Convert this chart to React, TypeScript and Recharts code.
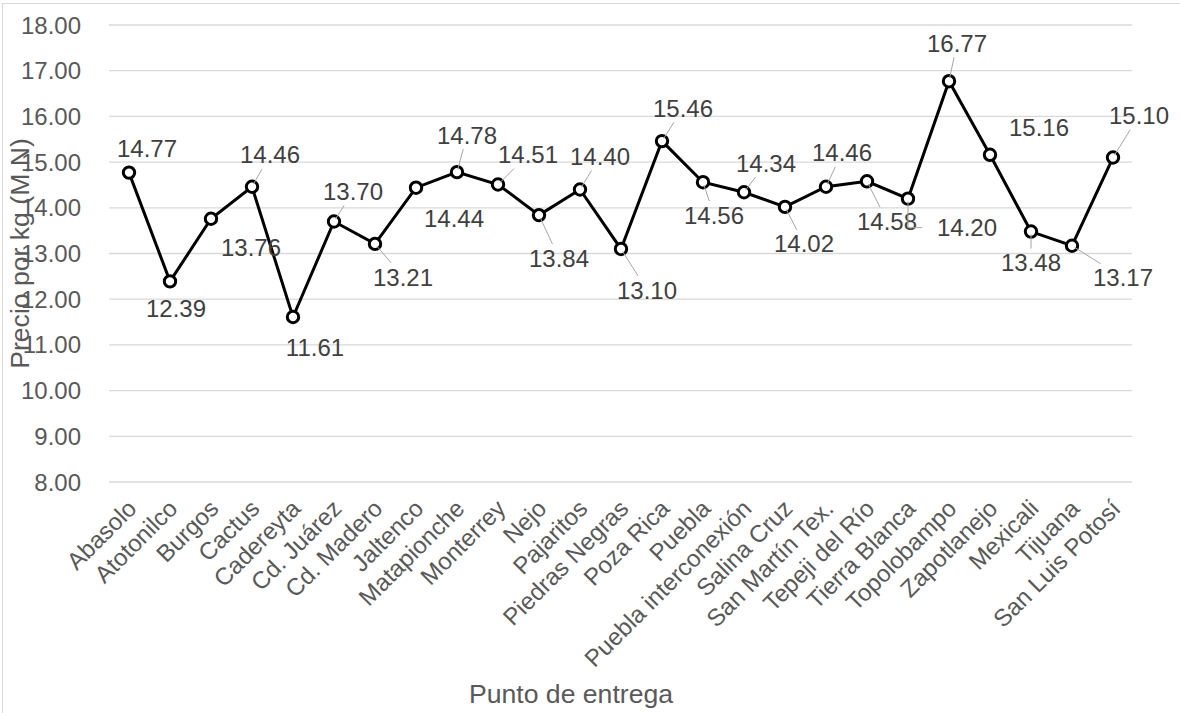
import React from 'react';
import { CartesianGrid, Label, Line, LineChart, XAxis, YAxis } from 'recharts';

const categories = [
  'Abasolo', 'Atotonilco', 'Burgos', 'Cactus', 'Cadereyta', 'Cd. Juárez', 'Cd. Madero',
  'Jaltenco', 'Matapionche', 'Monterrey', 'Nejo', 'Pajaritos', 'Piedras Negras', 'Poza Rica',
  'Puebla', 'Puebla interconexión', 'Salina Cruz', 'San Martín Tex.', 'Tepeji del Río',
  'Tierra Blanca', 'Topolobampo', 'Zapotlanejo', 'Mexicali', 'Tijuana', 'San Luis Potosí',
];

const prices = [
  14.77, 12.39, 13.76, 14.46, 11.61, 13.7, 13.21, 14.44, 14.78, 14.51, 13.84, 14.4, 13.1,
  15.46, 14.56, 14.34, 14.02, 14.46, 14.58, 14.2, 16.77, 15.16, 13.48, 13.17, 15.1,
];

const yTicks = [8, 9, 10, 11, 12, 13, 14, 15, 16, 17, 18];

// where Excel left each data label, relative to its point (px), and how the leader is drawn
const labelOffsets: [number, number][] = [
  [18, -24], [6, 27], [40, 29], [18, -32], [22, 30], [19, -30], [28, 33], [38, 31],
  [10, -37], [30, -30], [20, 43], [20, -33], [26, 41], [21, -33], [11, 33], [22, -29],
  [19, 37], [16, -34], [20, 40], [59, 29], [8, -38], [49, -27], [0, 31], [51, 32], [26, -42],
];
const leaderKinds = [
  'none', 'none', 'none', 'line', 'none', 'line', 'line', 'none', 'line', 'line', 'line',
  'line', 'line', 'line', 'line', 'line', 'line', 'line', 'line', 'elbow', 'line', 'none',
  'line', 'line', 'line',
];

const FONT = '"Liberation Sans", Arial, sans-serif';
const TICK_COLOR = '#595959';
const LABEL_COLOR = '#404040';
const BOX_W = 33;
const BOX_H = 14;

const data = categories.map((punto, i) => ({ punto, precio: prices[i] }));

function CategoryTick({ x, y, payload }: any) {
  return (
    <g transform={`translate(${x + 9},${y + 28})`}>
      <text textAnchor="end" transform="rotate(-45)" fontSize={24} fontFamily={FONT} fill={TICK_COLOR}>
        {payload.value}
      </text>
    </g>
  );
}

function PriceLabel(props: any) {
  const index: number = props.index;
  const px: number = props.x ?? props.viewBox?.x;
  const py: number = props.y ?? props.viewBox?.y;
  if (index == null || px == null || py == null) return null;
  const value = typeof props.value === 'number' ? props.value : prices[index];
  const [dx, dy] = labelOffsets[index];
  const lx = px + dx;
  const ly = py + dy;
  let leader = null;
  if (leaderKinds[index] === 'line') {
    const t = Math.min(BOX_W / Math.max(Math.abs(dx), 0.001), BOX_H / Math.max(Math.abs(dy), 0.001));
    const len = Math.hypot(dx, dy);
    leader = (
      <line
        x1={px + (3 * dx) / len}
        y1={py + (3 * dy) / len}
        x2={lx - t * dx}
        y2={ly - t * dy}
        stroke="#a6a6a6"
        strokeWidth={1}
      />
    );
  } else if (leaderKinds[index] === 'elbow') {
    leader = (
      <polyline
        points={`${px},${py + 3} ${px},${ly} ${lx - BOX_W - 12},${ly}`}
        fill="none"
        stroke="#a6a6a6"
        strokeWidth={1}
      />
    );
  }
  return (
    <g>
      {leader}
      <text x={lx} y={ly + 8.6} textAnchor="middle" fontSize={24} fontFamily={FONT} fill={LABEL_COLOR}>
        {value.toFixed(2)}
      </text>
    </g>
  );
}

export default function App() {
  return (
    <div
      style={{
        position: 'absolute',
        left: 0,
        top: 0,
        width: 1180,
        height: 713,
        background: '#fff',
        fontFamily: FONT,
      }}
    >
      <div
        style={{
          position: 'absolute',
          left: 2,
          top: 3,
          width: 1178,
          height: 710,
          borderLeft: '1px solid #d9d9d9',
          borderTop: '1px solid #d9d9d9',
          boxSizing: 'border-box',
        }}
      />
      <LineChart
        width={1180}
        height={713}
        data={data}
        margin={{ top: 25, right: 48, bottom: 0, left: 0 }}
        style={{ position: 'absolute', left: 0, top: 0 }}
      >
        <CartesianGrid vertical={false} stroke="#d9d9d9" strokeWidth={1.3} />
        <XAxis
          dataKey="punto"
          interval={0}
          height={231}
          padding={{ left: 20, right: 19 }}
          axisLine={false}
          tickLine={false}
          tickSize={0}
          tickMargin={0}
          tick={<CategoryTick />}
        >
          <Label
            content={({ viewBox }: any) => (
              <text
                x={viewBox.x + viewBox.width / 2 - 49.5}
                y={viewBox.y + viewBox.height - 10}
                textAnchor="middle"
                fontSize={26.6}
                fontFamily={FONT}
                fill={TICK_COLOR}
              >
                Punto de entrega
              </text>
            )}
          />
        </XAxis>
        <YAxis
          type="number"
          domain={[8, 18]}
          ticks={yTicks}
          interval={0}
          width={109}
          axisLine={false}
          tickLine={false}
          tickMargin={22}
          tickFormatter={(v: number) => v.toFixed(2)}
          tick={{ fontSize: 24, fontFamily: FONT, fill: TICK_COLOR }}
        >
          <Label
            content={({ viewBox }: any) => {
              const cx = 28.5;
              const cy = viewBox.y + viewBox.height / 2;
              return (
                <text
                  x={cx}
                  y={cy}
                  transform={`rotate(-90, ${cx}, ${cy})`}
                  textAnchor="middle"
                  fontSize={26.6}
                  fontFamily={FONT}
                  fill={TICK_COLOR}
                >
                  Precio por kg (M.N)
                </text>
              );
            }}
          />
        </YAxis>
        <Line
          type="linear"
          dataKey="precio"
          stroke="#000"
          strokeWidth={3}
          dot={{ r: 5.7, fill: '#fff', stroke: '#000', strokeWidth: 3 }}
          activeDot={false}
          label={PriceLabel}
          isAnimationActive={false}
        />
      </LineChart>
    </div>
  );
}
